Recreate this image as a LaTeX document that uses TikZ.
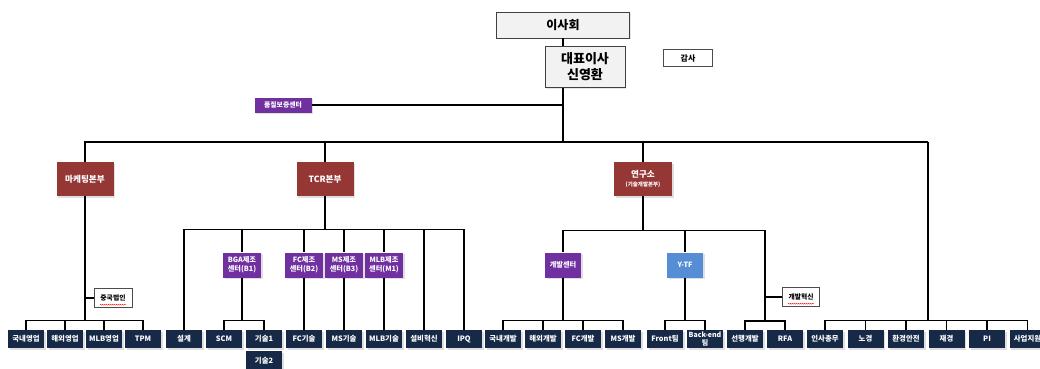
\documentclass[tikz,border=0pt]{standalone}
\usepackage{fontspec}
\setmainfont{Noto Sans CJK KR}
\usetikzlibrary{shapes,arrows,positioning,shadows,decorations.pathmorphing}
\definecolor{headred}{RGB}{149,55,53}
\definecolor{ctrpurple}{RGB}{112,48,160}
\definecolor{teamnavy}{RGB}{22,41,70}
\definecolor{tfblue}{RGB}{85,142,213}
\definecolor{boardgray}{RGB}{242,242,242}

\begin{document}
\begin{tikzpicture}[x=1pt, y=-1pt,
	board/.style={
		rectangle,
		draw=black!75,
		fill=boardgray,
		inner sep=2pt,
		align=center,
		drop shadow={shadow xshift=1pt, shadow yshift=-1pt, opacity=0.2},
		font=\bfseries\fontsize{12}{14}\selectfont},
	memo/.style={
		rectangle,
		draw=black!70,
		fill=white,
		inner sep=1pt,
		font=\bfseries\fontsize{6.8}{8}\selectfont},
	head/.style={
		rectangle,
		fill=headred,
		text=white,
		inner sep=1pt,
		minimum width=57pt,
		minimum height=34pt,
		align=center,
		drop shadow={shadow xshift=1.5pt, shadow yshift=-1.5pt, opacity=0.25},
		font=\bfseries\fontsize{8.6}{10}\selectfont},
	ctrbox/.style={
		rectangle,
		fill=ctrpurple,
		text=white,
		inner sep=1pt,
		minimum width=38pt,
		minimum height=25pt,
		align=center,
		drop shadow={shadow xshift=1.5pt, shadow yshift=-1.5pt, opacity=0.25},
		font=\bfseries\fontsize{7.2}{9}\selectfont},
	team/.style={
		node distance=40pt,
		rectangle,
		fill=teamnavy,
		text=white,
		inner sep=0.5pt,
		minimum width=36pt,
		minimum height=18pt,
		align=center,
		drop shadow={shadow xshift=1.5pt, shadow yshift=-1.5pt, opacity=0.25},
		font=\bfseries\fontsize{7.4}{8}\selectfont},
	line/.style={
	draw,
	line width=1.2pt}]

    \useasboundingbox (0,0) rectangle (1040,368);

    % Place nodes
    \node [board, minimum width=133pt, minimum height=26pt] (board) at (563,25) {이사회};
    \node [board, minimum width=80pt, minimum height=41pt, font=\bfseries\fontsize{13}{16}\selectfont] (ceo) at (585,67) {대표이사\\신영환};
    \node [memo, minimum width=49pt, minimum height=17pt, font=\bfseries\fontsize{8}{9}\selectfont] (audit) at (688,58) {감사};
    \node [ctrbox, minimum width=57pt, minimum height=15pt, font=\bfseries\fontsize{6.8}{7}\selectfont] (qa) at (283,105) {품질보증센터};
    \node [head] (mkt) at (85,179) {마케팅본부};
    \node [head] (tcr) at (325,179) {TCR본부};
    \node [head, minimum width=58pt] (lab) at (643,179) {연구소\\[-1pt]{\fontsize{5.5}{6}\selectfont (기술개발본부)}};

    % marketing
    \node [team] (dom) at (26,339) {국내영업};
    \node [team, right of=dom, node distance=39pt] (ovs) {해외영업};
    \node [team, right of=ovs, node distance=39pt] (mlbs) {MLB영업};
    \node [team, right of=mlbs, node distance=39pt] (tpm) {TPM};
    \node [memo, minimum width=38pt, minimum height=19pt] (cn) at (113,298) {중국법인};
    % tcr
    \node [team] (design) at (184,339) {설계};
    \node [team, right of=design] (scm) {SCM};
    \node [team, right of=scm] (t1) {기술1};
    \node [team, below=3pt of t1] (t2) {기술2};
    \node [team, right of=t1] (fct) {FC기술};
    \node [team, right of=fct] (mst) {MS기술};
    \node [team, right of=mst] (mlbt) {MLB기술};
    \node [team, right of=mlbt] (fac) {설비혁신};
    \node [team, right of=fac] (ipq) {IPQ};
    \node [ctrbox] (bga) at (242,265) {BGA제조\\센터(B1)};
    \node [ctrbox, above of=fct, node distance=74pt] (fcc) {FC제조\\센터(B2)};
    \node [ctrbox, above of=mst, node distance=74pt] (msc) {MS제조\\센터(B3)};
    \node [ctrbox, above of=mlbt, node distance=74pt] (mlbc) {MLB제조\\센터(M1)};
    % lab
    \node [team] (kdev) at (503,339) {국내개발};
    \node [team, right of=kdev] (odev) {해외개발};
    \node [team, right of=odev] (fdev) {FC개발};
    \node [team, right of=fdev] (mdev) {MS개발};
    \node [team] (front) at (665,339) {Front팀};
    \node [team, right of=front, font=\bfseries\fontsize{7}{7.5}\selectfont] (back) {Back-end\\팀};
    \node [team] (pre) at (745,339) {선행개발};
    \node [team, right of=pre] (rfa) {RFA};
    \node [ctrbox, minimum width=36pt] (devc) at (563,265) {개발센터};
    \node [ctrbox, minimum width=36pt, fill=tfblue] (ytf) at (685,265) {Y-TF};
    \node [memo, minimum width=37pt, minimum height=19pt] (inno) at (801,297) {개발혁신};
    % staff
    \node [team] (hr) at (825,339) {인사총무};
    \node [team, right of=hr, node distance=40.5pt] (labor) {노경};
    \node [team, right of=labor, node distance=40.5pt] (env) {환경안전};
    \node [team, right of=env, node distance=40.5pt] (fin) {재경};
    \node [team, right of=fin, node distance=40.5pt] (pi) {PI};
    \node [team, right of=pi, node distance=40.5pt] (biz) {사업지원};

    \coordinate (hub) at (563,142);
    \coordinate (sup) at (928,142);
    \coordinate (adv) at (765,321);

    % Draw edges
    \path [line] (board.south) -- (board.south |- ceo.north);
    \path [line] (board.south |- ceo.south) -- (hub);
    \path [line] (qa.east) -- (qa.east -| hub);
    \path [line] (hub) -| (mkt.north);
    \path [line] (hub) -| (tcr.north);
    \path [line] (hub) -| (lab.north);
    \path [line] (hub) -- (sup);

    \path [line] (mkt.south) |- ([yshift=9pt]dom.north) -- (dom.north);
    \path [line] (mkt.south) |- ([yshift=9pt]ovs.north) -- (ovs.north);
    \path [line] (mkt.south) |- ([yshift=9pt]mlbs.north) -- (mlbs.north);
    \path [line] (mkt.south) |- ([yshift=9pt]tpm.north) -- (tpm.north);
    \path [line] (mkt.south |- cn.west) -- (cn.west);

    \path [line] (tcr.south) -- ++(0,33) -| (design.north);
    \path [line] (tcr.south) -- ++(0,33) -| (bga.north);
    \path [line] (tcr.south) -- ++(0,33) -| (fcc.north);
    \path [line] (tcr.south) -- ++(0,33) -| (msc.north);
    \path [line] (tcr.south) -- ++(0,33) -| (mlbc.north);
    \path [line] (tcr.south) -- ++(0,33) -| (fac.north);
    \path [line] (tcr.south) -- ++(0,33) -| (ipq.north);
    \path [line] (bga.south) |- ([yshift=9pt]scm.north) -- (scm.north);
    \path [line] (bga.south) |- ([yshift=9pt]t1.north) -- (t1.north);
    \path [line] (fcc.south) -- (fct.north);
    \path [line] (msc.south) -- (mst.north);
    \path [line] (mlbc.south) -- (mlbt.north);

    \path [line] (lab.south) -- ++(0,34) -| (devc.north);
    \path [line] (lab.south) -- ++(0,34) -| (ytf.north);
    \path [line] (lab.south) -- ++(0,34) -| (adv);
    \path [line] (devc.south) |- ([yshift=9pt]kdev.north) -- (kdev.north);
    \path [line] (devc.south) |- ([yshift=9pt]odev.north) -- (odev.north);
    \path [line] (devc.south) |- ([yshift=9pt]fdev.north) -- (fdev.north);
    \path [line] (devc.south) |- ([yshift=9pt]mdev.north) -- (mdev.north);
    \path [line] (ytf.south) |- ([yshift=9pt]front.north) -- (front.north);
    \path [line] (ytf.south) |- ([yshift=9pt]back.north) -- (back.north);
    \path [line] (adv) -| (pre.north);
    \path [line] (adv) -| (rfa.north);
    \path [line] (adv |- inno.west) -- (inno.west);

    \path [line] (sup) |- ([yshift=9pt]hr.north) -- (hr.north);
    \path [line] (sup) |- ([yshift=9pt]labor.north) -- (labor.north);
    \path [line] (sup) |- ([yshift=9pt]env.north) -- (env.north);
    \path [line] (sup) |- ([yshift=9pt]fin.north) -- (fin.north);
    \path [line] (sup) |- ([yshift=9pt]pi.north) -- (pi.north);
    \path [line] (sup) |- ([yshift=9pt]biz.north) -- (biz.north);

    % spell-check marks
    \draw [red, line width=0.4pt, decorate, decoration={snake, amplitude=0.5pt, segment length=2pt}] ([xshift=-13pt, yshift=3pt]cn.south) -- ([xshift=13pt, yshift=3pt]cn.south);
    \draw [red, line width=0.4pt, decorate, decoration={snake, amplitude=0.5pt, segment length=2pt}] ([xshift=-13pt, yshift=3pt]inno.south) -- ([xshift=13pt, yshift=3pt]inno.south);
\end{tikzpicture}
\end{document}
